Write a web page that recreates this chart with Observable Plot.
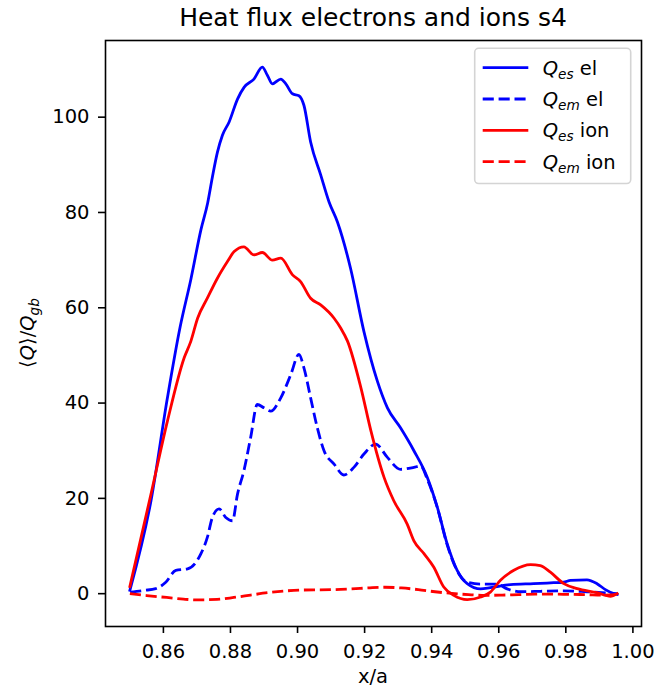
<!DOCTYPE html>
<html>
<head>
<meta charset="utf-8">
<script src="https://cdn.jsdelivr.net/npm/d3@7"></script>
<script src="https://cdn.jsdelivr.net/npm/@observablehq/plot@0.6"></script>
<style>
  html, body { margin: 0; padding: 0; background: white; }
  #chart { width: 660px; height: 694px; }
</style>
</head>
<body>
<div id="chart"></div>
<script>
const titleText = "Heat flux electrons and ions s4";
const xLabel = "x/a";
const xTicks = [0.86, 0.88, 0.90, 0.92, 0.94, 0.96, 0.98, 1.00];
const yTicks = [0, 20, 40, 60, 80, 100];

// Q_es el (blue solid)
const qesEl = [[0.850,0.7],[0.8563,19.5],[0.8612,41.1],[0.865,56],[0.8682,66],[0.8712,76.4],[0.8732,82.0],[0.8746,87.4],[0.8761,92.6],[0.8776,96.2],[0.8796,99.0],[0.8821,103.8],[0.8841,106.3],[0.8870,108.0],[0.8895,110.5],[0.8910,108.8],[0.8925,107.0],[0.8950,108.0],[0.8965,107.0],[0.8985,104.9],[0.9004,104.5],[0.9019,102.5],[0.9039,94.8],[0.9069,87.9],[0.9094,82.2],[0.9119,78.0],[0.9158,68.3],[0.9198,55.0],[0.9238,44.6],[0.9268,39.0],[0.9307,34.8],[0.9347,30.0],[0.9387,24.4],[0.9417,18.1],[0.9446,10.5],[0.9476,4.9],[0.9506,2.1],[0.9546,1.0],[0.9575,1.25],[0.9635,1.9],[0.9704,2.1],[0.9764,2.3],[0.9794,2.4],[0.9814,2.8],[0.9863,2.9],[0.9893,2.1],[0.9918,0.84],[0.9943,0],[0.9953,-0.15]];

// Q_em el (blue dashed)
const qemEl = [[0.8501,0.33],[0.8543,0.69],[0.8577,1.05],[0.8607,2.4],[0.8637,4.9],[0.8672,5.2],[0.8712,8.4],[0.8731,11.8],[0.8746,16.0],[0.8766,17.8],[0.8786,16.0],[0.8806,15.3],[0.8821,20.9],[0.8840,25.8],[0.8860,32.7],[0.8880,39.7],[0.8900,39.0],[0.8920,38.3],[0.8950,41.1],[0.8980,46.0],[0.9004,50.2],[0.9019,47.4],[0.9039,41.1],[0.9059,34.8],[0.9079,30.0],[0.9109,27.2],[0.9138,24.9],[0.9168,26.5],[0.9198,29.3],[0.9233,31.4],[0.9268,28.6],[0.9307,26.1],[0.9347,26.5],[0.9367,26.8],[0.9387,24],[0.9417,18],[0.9446,10.3],[0.9476,4.8],[0.9506,2.4],[0.9546,2.0],[0.9595,2.0],[0.9625,1.0],[0.9665,0.4],[0.9724,0.5],[0.9794,0.6],[0.9863,0.4],[0.9953,0]];

// Q_es ion (red solid)
const qesIon = [[0.850,1.5],[0.8563,20.9],[0.8612,36.2],[0.8662,49.5],[0.8682,53.0],[0.8702,57.8],[0.8731,62.0],[0.8761,66.2],[0.8791,69.7],[0.8811,71.8],[0.8840,72.8],[0.8870,71.1],[0.8895,71.6],[0.8925,70.0],[0.8950,70.4],[0.8985,66.9],[0.9009,65.5],[0.9039,62.0],[0.9069,60.6],[0.9109,57.8],[0.9129,55.7],[0.9149,53.0],[0.9189,43.2],[0.9219,34.1],[0.9258,24.4],[0.9287,19.5],[0.9327,14.6],[0.9347,11.1],[0.9377,8.4],[0.9406,5.6],[0.9436,1.4],[0.9466,-0.36],[0.9506,-1.25],[0.9546,-0.7],[0.9575,0.33],[0.9605,2.8],[0.9645,4.9],[0.9695,6.1],[0.9724,5.9],[0.9754,4.5],[0.9794,2.1],[0.9834,1.05],[0.9893,0.2],[0.9933,-0.56],[0.9953,0]];

// Q_em ion (red dashed)
const qemIon = [[0.850,0],[0.855,-0.4],[0.861,-0.8],[0.866,-1.15],[0.870,-1.3],[0.876,-1.2],[0.881,-0.8],[0.886,-0.3],[0.891,0.2],[0.896,0.55],[0.901,0.75],[0.906,0.8],[0.911,0.85],[0.916,1.0],[0.921,1.2],[0.926,1.35],[0.931,1.2],[0.936,0.85],[0.941,0.4],[0.946,0.05],[0.951,-0.2],[0.956,-0.35],[0.961,-0.3],[0.966,-0.2],[0.971,-0.1],[0.976,-0.1],[0.981,-0.15],[0.986,-0.2],[0.991,-0.3],[0.995,-0.2]];

const seriesData = [qesEl, qemEl, qesIon, qemIon];
const seriesSub = ["es", "em", "es", "em"];
const seriesSpecies = ["el", "el", "ion", "ion"];
const seriesColor = ["#0000ff", "#0000ff", "#ff0000", "#ff0000"];
const seriesDashed = [false, true, false, true];

const W = 660, H = 694;
const mL = 105, mR = 19, mT = 40, mB = 68;
const FS = 19.5;
const DASH = "11.1,4.8";

const allX = seriesData.flat().map(d => d[0]);
const allY = seriesData.flat().map(d => d[1]);
const xMin = d3.min(allX), xMax = d3.max(allX);
const yMin = d3.min(allY), yMax = d3.max(allY);
const xPad = (xMax - xMin) * 0.05, yPad = (yMax - yMin) * 0.05;

const lineMarks = seriesData.map((data, i) =>
  Plot.line(data, {
    x: d => d[0], y: d => d[1],
    stroke: seriesColor[i], strokeWidth: 2.8,
    curve: "monotone-x",
    strokeDasharray: seriesDashed[i] ? DASH : null,
    strokeLinejoin: "round", strokeLinecap: seriesDashed[i] ? "butt" : "square"
  })
);

const svg = Plot.plot({
  width: W, height: H,
  marginLeft: mL, marginRight: mR, marginTop: mT, marginBottom: mB,
  style: { fontFamily: "DejaVu Sans, sans-serif", fontSize: FS + "px", background: "white", color: "black", overflow: "visible" },
  x: { domain: [xMin - xPad, xMax + xPad] },
  y: { domain: [yMin - yPad, yMax + yPad] },
  marks: [
    ...lineMarks,
    Plot.axisX({ ticks: xTicks, tickFormat: d3.format(".2f"), tickSize: 7, tickPadding: 11, label: null, fontSize: FS, strokeWidth: 1.6 }),
    Plot.axisY({ ticks: yTicks, tickFormat: d => String(d), tickSize: 7, tickPadding: 9, label: null, fontSize: FS, strokeWidth: 1.6 }),
    Plot.frame({ stroke: "black", strokeWidth: 1.6 })
  ]
});

const s = d3.select(svg);
const cx = (mL + (W - mR)) / 2;
const cy = (mT + (H - mB)) / 2;

// Title
s.append("text").attr("x", cx).attr("y", 26).attr("text-anchor", "middle")
  .attr("font-size", 25).attr("fill", "black").text(titleText);

// x label
s.append("text").attr("x", cx).attr("y", 683).attr("text-anchor", "middle")
  .attr("font-size", FS).attr("fill", "black").text(xLabel);

// y label ⟨Q⟩/Q_gb
const yl = s.append("text").attr("transform", `translate(34,${cy}) rotate(-90)`)
  .attr("text-anchor", "middle").attr("font-size", FS).attr("fill", "black");
yl.append("tspan").text("⟨");
yl.append("tspan").attr("font-style", "italic").text("Q");
yl.append("tspan").text("⟩/");
yl.append("tspan").attr("font-style", "italic").text("Q");
yl.append("tspan").attr("font-style", "italic").attr("font-size", FS * 0.7).attr("dy", 5).text("gb");

// Legend
const lgRight = W - mR - 10.3, lgTop = mT + 8.3;
const lgW = 156, rowH = 31.3;
const lgH = rowH * seriesData.length + 10;
const lg = s.append("g");
lg.append("rect").attr("x", lgRight - lgW).attr("y", lgTop).attr("width", lgW).attr("height", lgH)
  .attr("rx", 4).attr("fill", "white").attr("fill-opacity", 0.8).attr("stroke", "#d4d4d4").attr("stroke-width", 1.6);
seriesData.forEach((_, i) => {
  const yy = lgTop + 19.4 + i * rowH;
  const x0 = lgRight - lgW + 8;
  lg.append("line").attr("x1", x0).attr("x2", x0 + 45.6).attr("y1", yy).attr("y2", yy)
    .attr("stroke", seriesColor[i]).attr("stroke-width", 2.8)
    .attr("stroke-dasharray", seriesDashed[i] ? DASH : null);
  const t = lg.append("text").attr("x", x0 + 60).attr("y", yy + 7).attr("font-size", FS)
    .attr("text-anchor", "start").attr("fill", "black");
  t.append("tspan").attr("font-style", "italic").text("Q");
  t.append("tspan").attr("font-style", "italic").attr("font-size", FS * 0.7).attr("dy", 4).text(seriesSub[i]);
  t.append("tspan").attr("dy", -4).text(" " + seriesSpecies[i]);
});

document.getElementById("chart").appendChild(svg);
</script>
</body>
</html>
